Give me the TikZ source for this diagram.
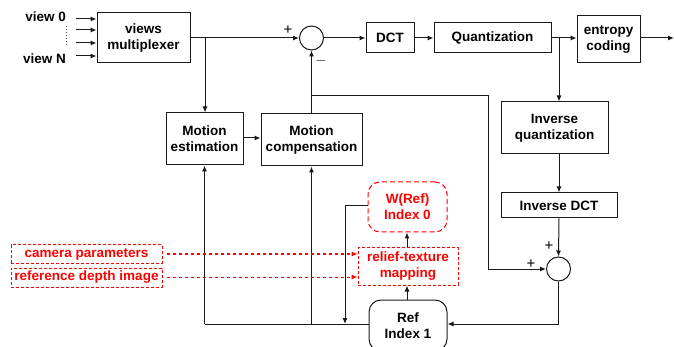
\documentclass[tikz,border=0pt]{standalone}
\usepackage{fontspec}
\setmainfont{Liberation Sans}
\usetikzlibrary{arrows.meta}
\begin{document}
\begin{tikzpicture}[x=1pt,y=-1pt,
  every node/.style={font=\fontsize{13.5}{16}\selectfont\bfseries},
  blk/.style={draw=black!90,line width=1pt,minimum width=#1,inner sep=0pt,align=center},
  rblk/.style={blk=#1,rounded corners=12pt},
  redbox/.style={draw=red,dashed,line width=1pt,text=red,inner sep=0pt,align=center,minimum width=#1},
  sumc/.style={draw=black!90,line width=1pt,circle,minimum size=24pt,inner sep=0pt},
  ln/.style={draw=black!90,line width=1pt},
  ar/.style={ln,-{Latex[length=6pt,width=5pt]}},
  rar/.style={draw=red,dashed,line width=1pt,-{Latex[length=6pt,width=5pt]}},
  sgn/.style={font=\fontsize{15}{15}\selectfont\mdseries,inner sep=0pt}]
\useasboundingbox (0,0) rectangle (674,347);
\clip (0,0) rectangle (674,347);
% blocks
\node[blk=93pt,minimum height=50pt] (mux) at (143.5,38) {views\\multiplexer};
\node[sumc] (s1) at (311.5,38) {};
\node[blk=48pt,minimum height=30pt] (dct) at (390,38) {DCT};
\node[blk=117pt,minimum height=30pt] (q) at (492.5,38) {Quantization};
\node[blk=63pt,minimum height=47pt] (ec) at (608.5,39.5) {entropy\\coding};
\node[blk=77pt,minimum height=52pt] (me) at (204.5,139) {Motion\\estimation};
\node[blk=101pt,minimum height=52pt] (mc) at (311.5,140) {Motion\\compensation};
\node[blk=107pt,minimum height=52pt] (iq) at (554.5,128) {Inverse\\quantization};
\node[blk=116pt,minimum height=25pt] (idct) at (559,205.5) {Inverse DCT};
\node[sumc] (s2) at (558.5,269) {};
\node[redbox=79pt,minimum height=50pt,rounded corners=12pt,dash pattern=on 5pt off 3pt] (w) at (407.5,207) {W(Ref)\\Index 0};
\node[redbox=100pt,minimum height=37pt,dash pattern=on 3pt off 2pt] (rt) at (408,266.5) {relief-texture\\mapping};
\node[rblk=78pt,minimum height=51pt] (ref) at (408,325.5) {Ref\\Index 1};
\node[redbox=151pt,minimum height=18pt,dash pattern=on 3pt off 2pt] (cam) at (86.5,254) {camera parameters};
\node[redbox=151pt,minimum height=19pt,dash pattern=on 3pt off 2pt] (dep) at (86.5,277.5) {reference depth image};
% view inputs
\node[anchor=east,inner sep=0pt] (v0) at (66,17) {view 0};
\node[anchor=east,inner sep=0pt] (vn) at (66,59) {view N};
\coordinate (a0) at (76,19); \coordinate (a1) at (76,30);
\coordinate (a2) at (76,43); \coordinate (a3) at (76,56);
\draw[ar] (a0) -- (a0 -| mux.west);
\draw[ar] (a1) -- (a1 -| mux.west);
\draw[ar] (a2) -- (a2 -| mux.west);
\draw[ar] (a3) -- (a3 -| mux.west);
\coordinate (d0) at (66,26); \coordinate (d1) at (66,47);
\draw[black!70,line width=1pt,dotted] (d0) -- (d1);
% main path
\coordinate (b1) at (205,38);
\draw[ar] (mux.east) -- (s1.west);
\draw[ar] (b1) -- (b1 |- me.north);
\draw[ar] (s1.east) -- (dct.west);
\draw[ar] (dct.east) -- (q.west);
\draw[ar] (q.east) -- (ec.west |- q.east);
\coordinate (out) at (674,38);
\draw[ar] (ec.east |- out) -- (out);
\coordinate (b2) at (559,38);
\draw[ar] (b2) -- (b2 |- iq.north);
\coordinate (b3) at (559,154);
\draw[ar] (b3) -- (idct.north);
\draw[ar] (idct.south) -- (s2.north);
\draw[ar] (mc.north) -- (s1.south);
\coordinate (c1) at (311.5,96); \coordinate (c2) at (488,96);
\draw[ar] (c1) -- (c2) |- (s2.west);
\draw[ar] (me.east |- 0,138) -- (mc.west |- 0,138);
% reference loop
\coordinate (e1) at (558.5,324);
\draw[ar] (s2.south) -- (e1) -- (ref.east |- e1);
\coordinate (f1) at (204.5,324); \coordinate (f2) at (311.5,324);
\draw[ln] (ref.west |- e1) -- (f1);
\draw[ar] (f1) -- (me.south);
\draw[ar] (f2) -- (mc.south);
\coordinate (g1) at (345,206); \coordinate (g2) at (345,324);
\draw[ar] (w.west |- g1) -- (g1) -- (g2);
\draw[ar] (ref.north -| 407,0) -- (rt.south -| 407,0);
\draw[ar] (rt.north -| 407,0) -- (w.south -| 407,0);
% red inputs
\coordinate (h1) at (167,254); \coordinate (h2) at (167,277);
\draw[rar] (h1) -- (h1 -| rt.west);
\draw[rar] (h2) -- (h2 -| rt.west);
% signs
\node[sgn] (p1) at (288,30) {+};
\node[sgn] (m1) at (321,61) {$-$};
\node[sgn] (p2) at (549,246) {+};
\node[sgn] (p3) at (531,264) {+};
\end{tikzpicture}
\end{document}
